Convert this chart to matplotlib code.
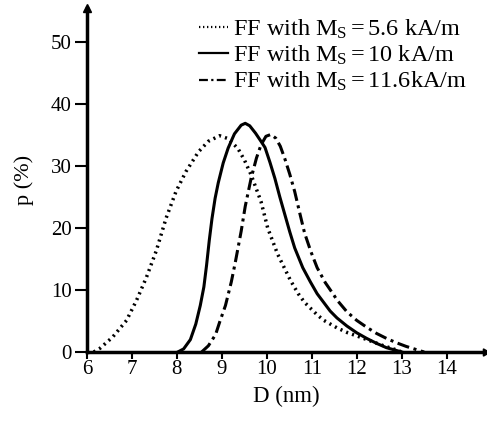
import matplotlib
matplotlib.use("Agg")
import matplotlib.pyplot as plt

plt.rcParams['font.family'] = ['Liberation Serif', 'DejaVu Serif']
plt.rcParams['mathtext.fontset'] = 'custom'
plt.rcParams['mathtext.rm'] = 'Liberation Serif'
plt.rcParams['mathtext.it'] = 'Liberation Serif:italic'

# size distributions
d_56 = [6.15, 6.29, 6.57, 6.88, 7.1, 7.32, 7.54, 7.76, 7.98, 8.2, 8.48, 8.7, 8.95, 9.15,
        9.36, 9.5, 9.65, 9.87, 10.02, 10.24, 10.53, 10.7, 10.84, 11.12, 11.27, 11.56,
        11.8, 12.0, 12.3, 12.6, 12.9, 13.0]
p_56 = [0, 0.6, 2.4, 5.1, 8.3, 12, 16.3, 21.6, 25.9, 29.1, 32.3, 34.0, 34.9, 34.4,
        32.8, 31, 28.6, 24.3, 20, 15.8, 11.5, 9.4, 8.0, 6.0, 5.1, 3.9,
        3.1, 2.6, 1.8, 1.0, 0.3, 0]

d_10 = [8.02, 8.15, 8.3, 8.42, 8.52, 8.6, 8.66, 8.72, 8.78, 8.85, 8.92, 9.03, 9.14, 9.28,
        9.43, 9.52, 9.62, 9.75, 9.87, 9.96, 10.07, 10.18, 10.29, 10.4, 10.51, 10.62,
        10.8, 10.97, 11.12, 11.41, 11.56, 11.78, 12.0, 12.22, 12.44, 12.66, 12.88, 13.0]
p_10 = [0, 0.5, 2.0, 4.5, 7.5, 10.5, 14, 18, 21.5, 24.8, 27.3, 30.5, 32.9, 35.2,
        36.6, 36.9, 36.5, 35.3, 34, 33, 30.6, 28, 25, 22.2, 19.4, 16.8,
        13.6, 11.3, 9.4, 6.6, 5.5, 4.2, 3.1, 2.2, 1.4, 0.7, 0.25, 0]

d_116 = [8.55, 8.7, 8.86, 8.95, 9.08, 9.21, 9.3, 9.43, 9.52, 9.65, 9.77, 9.87, 9.98, 10.09,
         10.2, 10.3, 10.4, 10.51, 10.62, 10.73, 10.84, 10.98, 11.12, 11.3, 11.49, 11.56,
         11.78, 12.0, 12.22, 12.44, 12.66, 12.88, 13.1, 13.32, 13.5]
p_116 = [0, 1.0, 2.8, 4.8, 7.5, 11.3, 14.5, 19.5, 23.5, 28, 31.3, 33.4, 34.8, 35.1,
         34.5, 33.2, 31.2, 28.7, 25.9, 22.5, 19.2, 16.2, 13.6, 11.2, 9.2, 8.4,
         6.5, 5.1, 4.0, 3.0, 2.2, 1.5, 0.9, 0.4, 0]

labels = [r'FF with M$_\mathrm{S}=$5.6 kA/m',
          r'FF with M$_\mathrm{S}=$10 kA/m',
          r'FF with M$_\mathrm{S}=$11.6kA/m']

fig = plt.figure(figsize=(4.87, 4.21), dpi=100)
ax = fig.add_axes([0.1786, 0.1639, 0.817, 0.817])

ax.plot(d_56, p_56, color='black', lw=2.5, linestyle=(0, (0.6, 1.2)), label=labels[0])
ax.plot(d_10, p_10, color='black', lw=2.2, linestyle='-', label=labels[1])
ax.plot(d_116, p_116, color='black', lw=2.2, linestyle=(0, (4, 1.5, 1, 1.5)), label=labels[2])

ax.set_xlim(6, 14.85)
ax.set_ylim(0, 55.5)
ax.set_xticks(range(6, 15))
ax.set_yticks(range(0, 51, 10))

for s in ['top', 'right']:
    ax.spines[s].set_visible(False)
for s in ['left', 'bottom']:
    ax.spines[s].set_linewidth(2.5)

# arrow heads on the axes
ax.plot(1, 0, marker=(3, 0, -90), ms=6, color='black', transform=ax.transAxes, clip_on=False)
ax.plot(0, 1, marker='^', ms=6, color='black', transform=ax.transAxes, clip_on=False)

ax.tick_params(axis='y', direction='out', length=9, width=1.5, labelsize=15, pad=2)
ax.tick_params(axis='x', direction='out', length=5, width=1.5, labelsize=15, pad=1)

ax.set_xlabel('D (nm)', fontsize=16.5, labelpad=5)
ax.set_ylabel('p (%)', fontsize=16, labelpad=12)

leg = ax.legend(loc='upper right', bbox_to_anchor=(0.98, 1.0), frameon=False, fontsize=17.5,
                handlelength=1.2, handletextpad=0.2, labelspacing=0.12, borderaxespad=0)
for h in leg.get_lines():
    h.set_linewidth(1.6)

fig.savefig('out.png', dpi=100)
